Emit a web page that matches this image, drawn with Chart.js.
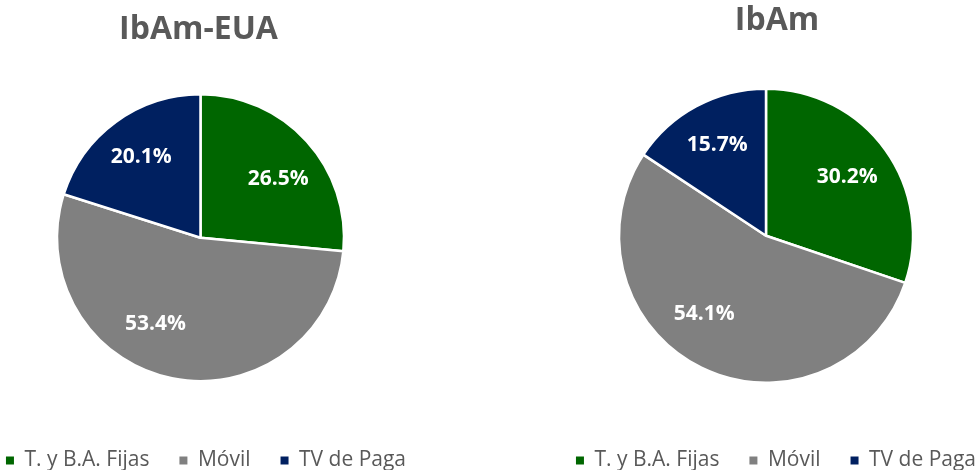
<!DOCTYPE html>
<html>
<head>
<meta charset="utf-8">
<script src="https://cdn.jsdelivr.net/npm/chart.js@4/dist/chart.umd.min.js"></script>
<style>
  html, body { margin: 0; padding: 0; background: #fff; overflow: hidden; width: 978px; height: 470px; }
  canvas { position: absolute; top: 0; }
  #leftChart { left: -34px; }
  #rightChart { left: 536px; }
</style>
</head>
<body>
<canvas id="leftChart" width="480" height="481"></canvas>
<canvas id="rightChart" width="480" height="481"></canvas>
<script>
const categories = ['T. y B.A. Fijas', 'Móvil', 'TV de Paga'];
const ibamEuaValues = [26.5, 53.4, 20.1];
const ibamValues = [30.2, 54.1, 15.7];
const sliceColors = ['#006600', '#808080', '#002060'];

Chart.defaults.font.family = "'Open Sans', sans-serif";

// draws the percentage inside each slice
const sliceLabels = {
    id: 'sliceLabels',
    afterDatasetsDraw(chart, args, opts) {
        const ctx = chart.ctx;
        const meta = chart.getDatasetMeta(0);
        const values = chart.data.datasets[0].data;
        ctx.save();
        ctx.font = 'bold 21px "Open Sans"';
        ctx.fillStyle = '#ffffff';
        ctx.textAlign = 'center';
        ctx.textBaseline = 'middle';
        meta.data.forEach((arc, i) => {
            const p = arc.getProps(['x', 'y', 'startAngle', 'endAngle', 'outerRadius'], true);
            // excel's "best fit" pushes the big slice's label off its middle a bit
            const mid = (p.startAngle + p.endAngle) / 2 + (opts.turn[i] || 0) * Math.PI / 180;
            const r = p.outerRadius * (opts.dist[i] || 0.68);
            ctx.fillText(values[i].toFixed(1) + '%', p.x + Math.cos(mid) * r, p.y + Math.sin(mid) * r);
        });
        ctx.restore();
    }
};

// nudges pie and title sideways so they sit where the original has them
const shiftParts = {
    id: 'shiftParts',
    afterLayout(chart, args, opts) {
        chart.chartArea.left += opts.pieDx;
        chart.chartArea.right += opts.pieDx;
        if (chart.titleBlock) {
            chart.titleBlock.left += opts.titleDx;
            chart.titleBlock.right += opts.titleDx;
        }
    }
};

function getConfig(title, values, radius, titlePad, pieDx, titleDx, turn) {
    return {
        type: 'pie',
        data: {
            labels: categories,
            datasets: [{
                data: values,
                backgroundColor: sliceColors,
                borderColor: '#ffffff',
                borderWidth: 2.5,
            }],
        },
        options: {
            responsive: false,
            animation: false,
            radius: radius,
            layout: { padding: 0 },
            plugins: {
                title: {
                    display: true,
                    text: title,
                    color: '#595959',
                    font: { size: 32, weight: 'bold' },
                    padding: titlePad,
                },
                legend: {
                    position: 'bottom',
                    labels: {
                        color: '#595959',
                        font: { size: 21 },
                        boxWidth: 8,
                        boxHeight: 8,
                        padding: 30,
                        generateLabels(chart) {
                            const items = Chart.overrides.pie.plugins.legend.labels.generateLabels(chart);
                            return items.map(it => Object.assign(it, { lineWidth: 0 }));
                        },
                    },
                },
                tooltip: { enabled: false },
                shiftParts: { pieDx: pieDx, titleDx: titleDx },
                sliceLabels: { turn: turn, dist: [0.68, 0.68, 0.7] },
            },
        },
        plugins: [sliceLabels, shiftParts],
    };
}

new Chart(document.getElementById('leftChart'),
    getConfig('IbAm-EUA', ibamEuaValues, 143.5, { top: 11, bottom: 6 }, -5.5, -7.5, [5, 16, 0]));
new Chart(document.getElementById('rightChart'),
    getConfig('IbAm', ibamValues, 147, { top: 2, bottom: 11 }, -10, 1, [0, 12, 0]));
</script>
</body>
</html>
